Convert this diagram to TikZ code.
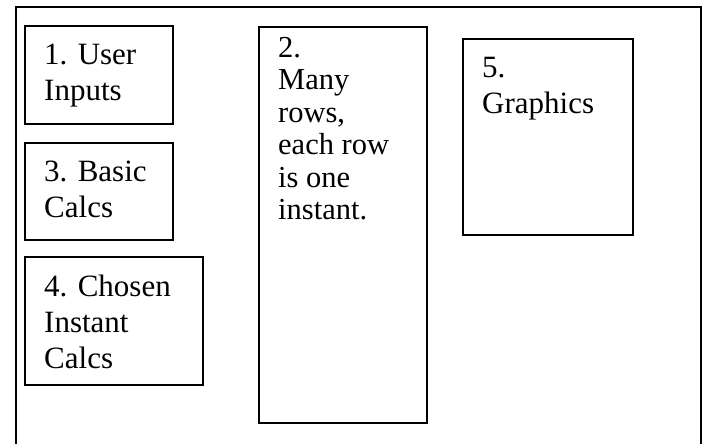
\documentclass[tikz,border=0pt]{standalone}
\usepackage{fontspec}
\setmainfont{Liberation Serif}
\tikzset{
  panel/.style={draw, line width=2pt, anchor=north west, inner sep=0pt},
  paneltext/.style={anchor=north west, inner sep=0pt, align=left,
    font=\fontsize{31}{36}\selectfont}
}
\begin{document}
\begin{tikzpicture}[x=1pt,y=1pt]
\useasboundingbox (0,0) rectangle (704,444);
% outer frame, open at the bottom
\draw[line width=2pt] (15.7,0) -- (15.7,436.7) -- (700.7,436.7) -- (700.7,0);
% left column
\node[panel, minimum width=148pt, minimum height=98pt] (inputs) at (24,419) {};
\node[paneltext] (inputstext) at ([shift={(20,-19)}]inputs.north west) {1. User\\Inputs};
\node[panel, minimum width=148pt, minimum height=97pt] (basic) at (24,302) {};
\node[paneltext] (basictext) at ([shift={(20,-19)}]basic.north west) {3. Basic\\Calcs};
\node[panel, minimum width=178pt, minimum height=128pt] (chosen) at (24,188) {};
\node[paneltext] (chosentext) at ([shift={(20,-19)}]chosen.north west) {4. Chosen\\Instant\\Calcs};
% middle and right
\node[panel, minimum width=168pt, minimum height=396pt] (rows) at (258,418) {};
\node[paneltext, font=\fontsize{30.5}{32.5}\selectfont] (rowstext) at ([shift={(20,-11)}]rows.north west)
  {2.\\Many\\rows,\\each row\\is one\\instant.};
\node[panel, minimum width=170pt, minimum height=196pt] (graphics) at (462,406) {};
\node[paneltext] (graphicstext) at ([shift={(20,-19)}]graphics.north west) {5.\\Graphics};
\end{tikzpicture}
\end{document}
